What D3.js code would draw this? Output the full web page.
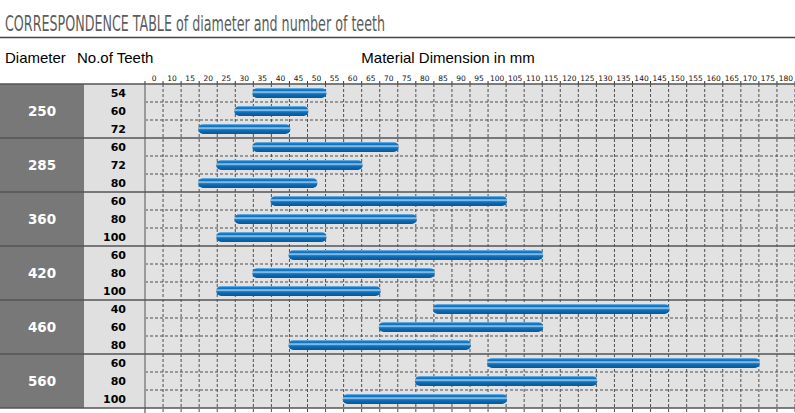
<!DOCTYPE html>
<html>
<head>
<meta charset="utf-8">
<script src="https://cdn.jsdelivr.net/npm/d3@7"></script>
<style>
  html, body { margin: 0; padding: 0; background: #fff; }
  svg { display: block; }
</style>
</head>
<body>
<svg id="chart" width="795" height="413"></svg>
<script>
// ---------- data ----------
const diameters = [250, 285, 360, 420, 460, 560];
const teethPerDiameter = [
  [54, 60, 72],
  [60, 72, 80],
  [60, 80, 100],
  [60, 80, 100],
  [40, 60, 80],
  [60, 80, 100]
];
// material dimension range (mm) for each row, in row order
const minMm = [30, 25, 15,  30, 20, 15,  35, 25, 20,  40, 30, 20,  80, 65, 40,  95, 75, 55];
const maxMm = [50, 45, 40,  70, 60, 47.5, 100, 75, 50, 110, 80, 65, 145, 110, 90, 170, 125, 100];
const tickLabels = ["0","10","15","20","25","30","35","40","45","50","55","60","65","70","75","80","85","90",
  "95","100","105","110","115","120","125","130","135","140","145","150","155","160","165","170","175","180"];
const mmMax = 180, mmStep = 5;

// ---------- layout ----------
const W = 795, H = 413;
const plotLeft = 145, plotRight = 795, plotTop = 84, rowH = 18;
const rows = [];
diameters.forEach((d, gi) => teethPerDiameter[gi].forEach((t, ti) => rows.push({g: gi, d, t, ti})));
rows.forEach((r, i) => { r.min = minMm[i]; r.max = maxMm[i]; r.i = i; });
const plotBottom = plotTop + rowH * rows.length;

const svg = d3.select("#chart");
const x = d3.scaleLinear().domain([0, mmMax]).range([plotLeft, plotRight]);
const y = d3.scaleBand().domain(rows.map(r => r.i)).range([plotTop, plotBottom]).padding(0);
const gy = d3.scaleBand().domain(diameters).range([plotTop, plotBottom]).padding(0);

const defs = svg.append("defs");
const grad = defs.append("linearGradient").attr("id", "barGrad").attr("x1", 0).attr("y1", 0).attr("x2", 0).attr("y2", 1);
[["0%", "#8ec2ec"], ["12%", "#1f80ca"], ["30%", "#0c70ba"], ["40%", "#cfe7f9"], ["50%", "#2d89ce"],
 ["68%", "#0b69b2"], ["100%", "#06589a"]].forEach(([o, c]) => grad.append("stop").attr("offset", o).attr("stop-color", c));

// ---------- title ----------
svg.append("text")
  .attr("x", 5).attr("y", 31)
  .attr("font-family", "'DejaVu Sans Condensed', 'Liberation Sans Narrow', sans-serif")
  .attr("font-size", 21)
  .attr("fill", "#5c5c5c")
  .attr("textLength", 380).attr("lengthAdjust", "spacingAndGlyphs")
  .text("CORRESPONDENCE TABLE of diameter and number of teeth");
svg.append("line").attr("x1", 0).attr("x2", W).attr("y1", 37.5).attr("y2", 37.5)
  .attr("stroke", "#444").attr("stroke-width", 1.5);

// ---------- headers ----------
const hdrFont = "'Liberation Sans', Arial, sans-serif";
svg.append("text").attr("x", 5).attr("y", 63).attr("font-family", hdrFont).attr("font-size", 15)
  .attr("fill", "#000").text("Diameter");
svg.append("text").attr("x", 77).attr("y", 63).attr("font-family", hdrFont).attr("font-size", 15)
  .attr("fill", "#000").text("No.of Teeth");
svg.append("text").attr("x", 448).attr("y", 63).attr("text-anchor", "middle").attr("font-family", hdrFont)
  .attr("font-size", 15).attr("fill", "#000").text("Material Dimension in mm");

// ---------- backgrounds ----------
svg.append("rect").attr("x", 0).attr("y", plotTop).attr("width", 84).attr("height", plotBottom - plotTop).attr("fill", "#787878");
svg.append("rect").attr("x", 84).attr("y", plotTop).attr("width", plotLeft - 84).attr("height", plotBottom - plotTop).attr("fill", "#e0e0e0");
svg.append("rect").attr("x", plotLeft).attr("y", plotTop).attr("width", plotRight - plotLeft).attr("height", plotBottom - plotTop).attr("fill", "#e2e2e2");

// ---------- grid ----------
const colEdges = d3.range(mmStep, mmMax + mmStep, mmStep);
svg.append("g").selectAll("line").data(colEdges).join("line")
  .attr("x1", d => x(d)).attr("x2", d => x(d)).attr("y1", plotTop).attr("y2", H)
  .attr("stroke", "#4f4f4f").attr("stroke-width", 1).attr("stroke-dasharray", "3,2");
// tick marks at top
svg.append("g").selectAll("line").data([0].concat(colEdges)).join("line")
  .attr("x1", d => x(d)).attr("x2", d => x(d)).attr("y1", plotTop - 3).attr("y2", plotTop)
  .attr("stroke", "#333").attr("stroke-width", 1);
// row dashed separators (within groups)
const innerRows = rows.filter(r => r.ti > 0);
svg.append("g").selectAll("line").data(innerRows).join("line")
  .attr("x1", plotLeft).attr("x2", plotRight).attr("y1", r => y(r.i)).attr("y2", r => y(r.i))
  .attr("stroke", "#4f4f4f").attr("stroke-width", 1).attr("stroke-dasharray", "3,2");
// left plot border
svg.append("line").attr("x1", plotLeft).attr("x2", plotLeft).attr("y1", plotTop).attr("y2", H)
  .attr("stroke", "#9a9a9a").attr("stroke-width", 2);
// group separators
svg.append("g").selectAll("line").data(diameters.concat(["end"])).join("line")
  .attr("x1", 0).attr("x2", W)
  .attr("y1", d => d === "end" ? plotBottom : gy(d)).attr("y2", d => d === "end" ? plotBottom : gy(d))
  .attr("stroke", "#555").attr("stroke-width", 1.6);

// ---------- tick labels ----------
svg.append("g").selectAll("text").data(tickLabels).join("text")
  .attr("x", (d, i) => x(i * mmStep + mmStep / 2)).attr("y", 81)
  .attr("text-anchor", "middle")
  .attr("font-family", "'DejaVu Sans', sans-serif").attr("font-size", 7.5)
  .attr("fill", "#111").text(d => d);

// ---------- row labels ----------
svg.append("g").selectAll("text").data(diameters).join("text")
  .attr("x", 42).attr("y", d => gy(d) + gy.bandwidth() / 2 + 5)
  .attr("text-anchor", "middle")
  .attr("font-family", "'DejaVu Sans', sans-serif").attr("font-weight", "bold").attr("font-size", 13.5)
  .attr("fill", "#fff").text(d => d);
svg.append("g").selectAll("text").data(rows).join("text")
  .attr("x", 126).attr("y", r => y(r.i) + y.bandwidth() / 2 + 4)
  .attr("text-anchor", "end")
  .attr("font-family", "'DejaVu Sans', sans-serif").attr("font-weight", "bold").attr("font-size", 11)
  .attr("fill", "#000").text(r => r.t);

// ---------- bars ----------
const barH = 10;
svg.append("g").selectAll("rect").data(rows).join("rect")
  .attr("x", r => x(r.min) - 1)
  .attr("width", r => x(r.max) - x(r.min) + 2)
  .attr("y", r => y(r.i) + (y.bandwidth() - barH) / 2)
  .attr("height", barH)
  .attr("rx", barH / 2).attr("ry", barH / 2)
  .attr("fill", "url(#barGrad)");
</script>
</body>
</html>
